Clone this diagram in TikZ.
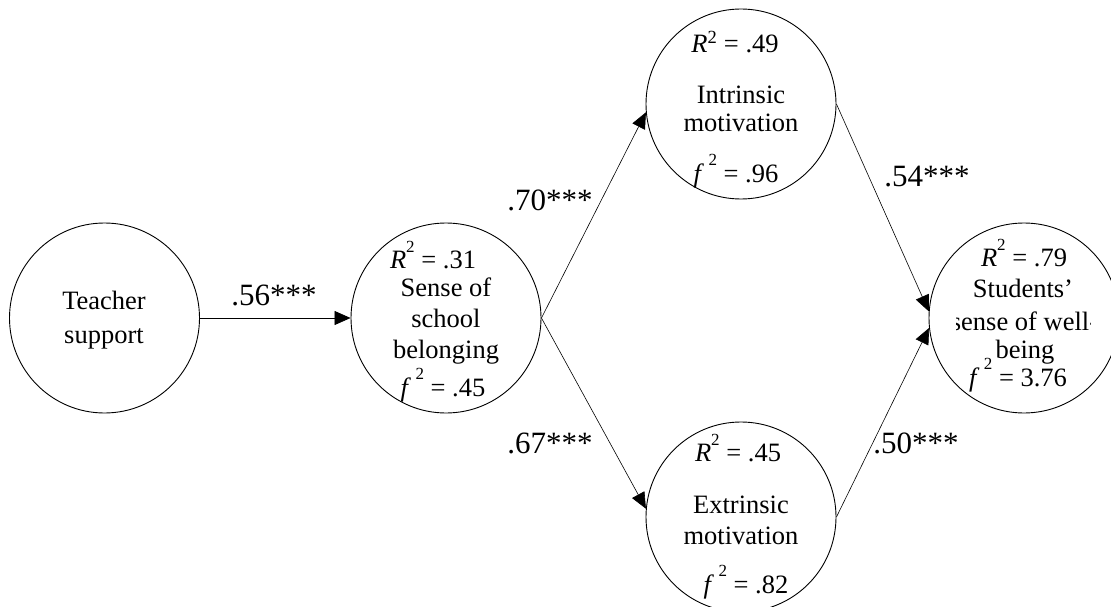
\documentclass[tikz,border=0pt]{standalone}
\usepackage{fontspec}
\setmainfont{Liberation Serif}
\usetikzlibrary{arrows.meta}
\newcommand\myhsup[1]{\raisebox{0.62em}{\fontsize{17}{17}\selectfont #1}}
\begin{document}
\begin{tikzpicture}[x=1pt,y=-1pt,
  latent/.style={circle,draw,line width=0.9pt,minimum size=190pt,inner sep=0pt},
  txt/.style={font=\fontsize{26.5}{31}\selectfont,inner sep=0pt,align=center},
  coef/.style={font=\fontsize{31}{34}\selectfont,inner sep=0pt},
  pathar/.style={line width=0.6pt,-{Triangle[length=16pt,width=14pt]}}]
\useasboundingbox (0,0) rectangle (1111,607);
\clip (0,0) rectangle (1111,607);

% latent variables
\node[latent] (ts) at (104.5,318) {};
\node[latent] (sb) at (446,318) {};
\node[latent] (im) at (741,104) {};
\node[latent] (em) at (741,517) {};
\node[latent] (wb) at (1024,318) {};

% texts: teacher support
\node[txt] (tsl) at (104,320) {Teacher\\[3pt]support};

% sense of school belonging
\node[txt] (sbr) at (433,255) {\textit{R}\myhsup{2}\ = .31};
\node[txt] (sbl) at (446,321) {Sense of\\school\\belonging};
\node[txt] (sbf) at (443,385) {\textit{f}\,\myhsup{2}\ = .45};

% intrinsic motivation
\node[txt] (imr) at (735,42) {\textit{R}\textsuperscript{2} = .49};
\node[txt] (iml) at (741,109) {Intrinsic\\[-3pt]motivation};
\node[txt] (imf) at (736,171) {\textit{f}\,\myhsup{2}\ = .96};

% extrinsic motivation
\node[txt] (emr) at (738,448) {\textit{R}\myhsup{2}\ = .45};
\node[txt] (eml) at (741,520) {Extrinsic\\motivation};
\node[txt] (emf) at (746,582) {\textit{f}\,\myhsup{2}\ = .82};

% students' sense of well-being
\node[txt] (wbr) at (1024,253) {\textit{R}\myhsup{2}\ = .79};
\node[txt] (wbl1) at (1023,288) {Students’};
\begin{scope}
  \clip (956,300) rectangle (1090,342);
  \node[txt] (wbl2) at (1024.5,321) {sense of well-};
\end{scope}
\node[txt] (wbl3) at (1025,352) {being};
\node[txt] (wbf) at (1018,375) {\textit{f}\,\myhsup{2}\ = 3.76};

% paths
\draw[pathar] (ts) -- (sb);
\draw[pathar] (sb.east) -- (im.185);
\draw[pathar] (sb.east) -- (em.175);
\draw[pathar] (im.east) -- (wb.176);
\draw[pathar] (em.east) -- (wb.186);

% coefficients
\node[coef] (c1) at (274,295) {.56***};
\node[coef] (c2) at (550,200) {.70***};
\node[coef] (c3) at (550,443) {.67***};
\node[coef] (c4) at (927,177) {.54***};
\node[coef] (c5) at (916,443) {.50***};
\end{tikzpicture}
\end{document}
